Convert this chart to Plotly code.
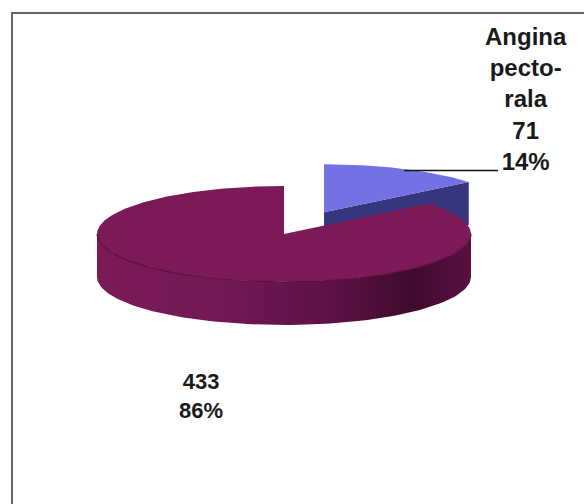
import numpy as np
import plotly.graph_objects as go

# ---- data ----
categories = ["Angina pectorala", ""]
label_names = ["Angina<br>pecto-<br>rala", ""]
values = [71, 433]
top_colors = ["#7272E4", "#7B1A57"]
side_colors = ["#36367E", "#6A164C"]

# ---- layout constants (pixel-like axis units) ----
W, H = 584, 504
CX, CY = 284, 234       # centre of pie top face
RX, RY = 187, 48        # ellipse radii of the top face
DEPTH = 43              # thickness of the pie
EXPLODE = 0.5           # explode fraction for the first slice

total = sum(values)
fracs = [v / total for v in values]
pcts = [round(f * 100) for f in fracs]

# angles clockwise from 12 o'clock, in degrees
starts = np.cumsum([0] + fracs[:-1]) * 360
ends = np.cumsum(fracs) * 360


def pt(cx, cy, theta_deg, dz=0.0):
    t = np.radians(theta_deg)
    return cx + RX * np.sin(t), cy - RY * np.cos(t) + dz


def arc(cx, cy, a0, a1, dz=0.0, n=120):
    th = np.linspace(a0, a1, n)
    t = np.radians(th)
    return list(cx + RX * np.sin(t)), list(cy - RY * np.cos(t) + dz)


fig = go.Figure()

# ---- slice 0 (exploded, behind) ----
s0, e0 = starts[0], ends[0]
mid0 = (s0 + e0) / 2
ox = EXPLODE * RX * np.sin(np.radians(mid0))
oy = -EXPLODE * RY * np.cos(np.radians(mid0))
bcx, bcy = CX + ox, CY + oy

# cut face at end angle (visible, facing front-right)
rx_, ry_ = pt(bcx, bcy, e0)
fig.add_trace(go.Scatter(
    x=[bcx, rx_, rx_, bcx, bcx],
    y=[bcy, ry_, ry_ + DEPTH, bcy + DEPTH, bcy],
    fill="toself", mode="lines", line=dict(width=0),
    fillcolor=side_colors[0], hoverinfo="skip", showlegend=False))

# top face
ax_, ay_ = arc(bcx, bcy, s0, e0)
fig.add_trace(go.Scatter(
    x=[bcx] + ax_ + [bcx], y=[bcy] + ay_ + [bcy],
    fill="toself", mode="lines", line=dict(width=0),
    fillcolor=top_colors[0], hoverinfo="skip", showlegend=False,
    name=categories[0]))

# ---- slice 1 (main) ----
s1, e1 = starts[1], ends[1]
# outer side, visible from 90 to 270 degrees
v0, v1 = max(s1, 90), min(e1, 270)
tx, ty = arc(CX, CY, v0, v1)
bx, by = arc(CX, CY, v1, v0, dz=DEPTH)
fig.add_trace(go.Scatter(
    x=tx + bx + [tx[0]], y=ty + by + [ty[0]],
    fill="toself", mode="lines", line=dict(width=0),
    fillgradient=dict(type="horizontal", colorscale=[
        [0.0, "#7A1A56"], [0.35, "#711853"], [0.6, "#5F1347"],
        [0.85, "#3E0B2C"], [1.0, "#5A1040"]]),
    hoverinfo="skip", showlegend=False))

# top face
ax1, ay1 = arc(CX, CY, s1, e1, n=300)
fig.add_trace(go.Scatter(
    x=[CX] + ax1 + [CX], y=[CY] + ay1 + [CY],
    fill="toself", mode="lines", line=dict(width=0),
    fillcolor=top_colors[1], hoverinfo="skip", showlegend=False,
    name=categories[1]))

# rim edge line on front
fx, fy = arc(CX, CY, v0, v1)
fig.add_trace(go.Scatter(
    x=fx, y=fy, mode="lines", line=dict(color="#5A0F3E", width=1.2),
    hoverinfo="skip", showlegend=False))

# ---- labels ----
lbl0_x, lbl0_y = 526, 99
lead_end_x = 498
mx, my = pt(bcx, bcy, mid0)
fig.add_trace(go.Scatter(
    x=[mx, lead_end_x], y=[my + 1.5, my + 1.5], mode="lines",
    line=dict(color="#111111", width=1.5),
    hoverinfo="skip", showlegend=False))

texts = []
for name, v, p in zip(label_names, values, pcts):
    texts.append((name + "<br>" if name else "") + f"{v}<br>{p}%")

fig.add_annotation(x=lbl0_x, y=lbl0_y, text=texts[0], showarrow=False,
                   xanchor="center", yanchor="middle",
                   font=dict(family="Liberation Sans, Arial", size=24,
                             color="#1a1a1a", weight="bold"))
fig.add_annotation(x=201, y=396, text=texts[1], showarrow=False,
                   xanchor="center", yanchor="middle",
                   font=dict(family="Liberation Sans, Arial", size=22,
                             color="#1a1a1a", weight="bold"))

# chart-area border (left and top visible)
fig.add_shape(type="rect", xref="paper", yref="paper",
              x0=12 / W, x1=1.2, y0=-0.2, y1=1 - 13 / H,
              line=dict(color="#666666", width=2), fillcolor="rgba(0,0,0,0)",
              layer="above")

fig.update_layout(
    width=W, height=H, margin=dict(l=0, r=0, t=0, b=0),
    paper_bgcolor="white", plot_bgcolor="white",
    xaxis=dict(range=[0, W], visible=False, fixedrange=True),
    yaxis=dict(range=[H, 0], visible=False, fixedrange=True),
    showlegend=False,
)

fig.write_html("out.html")
